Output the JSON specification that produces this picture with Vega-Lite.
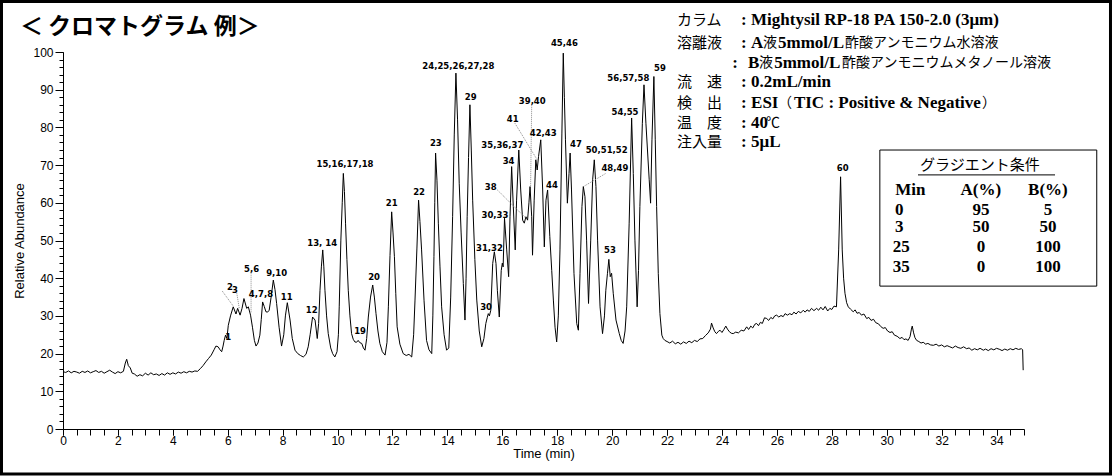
{
  "$schema": "https://vega.github.io/schema/vega-lite/v6.json",
  "autosize": {"type": "none"},
  "padding": {"left": 63, "top": 52, "right": 94, "bottom": 47},
  "width": 961,
  "height": 377,
  "background": "white",
  "config": {
    "view": {"stroke": null},
    "axis": {"labelFont": "Liberation Sans", "titleFont": "Liberation Sans", "labelColor": "#000", "titleColor": "#000", "domainColor": "#000", "tickColor": "#000", "grid": false, "titleFontWeight": "normal"}
  },
  "datasets": {
    "trace": [
      {"time":0,"abundance":15.2},{"time":0.1,"abundance":15.0},{"time":0.2,"abundance":15.4},{"time":0.3,"abundance":14.9},{"time":0.4,"abundance":15.3},{"time":0.5,"abundance":15.1},{"time":0.6,"abundance":14.8},{"time":0.7,"abundance":15.3},{"time":0.8,"abundance":15.0},{"time":0.9,"abundance":15.4},{"time":1.0,"abundance":14.9},{"time":1.1,"abundance":15.2},{"time":1.2,"abundance":15.5},{"time":1.3,"abundance":15.0},{"time":1.4,"abundance":15.3},{"time":1.5,"abundance":14.8},{"time":1.6,"abundance":15.2},{"time":1.7,"abundance":15.6},{"time":1.8,"abundance":15.1},{"time":1.9,"abundance":14.7},{"time":2.0,"abundance":15.2},{"time":2.1,"abundance":14.9},{"time":2.2,"abundance":15.3},{"time":2.27,"abundance":17.5},{"time":2.32,"abundance":18.5},{"time":2.38,"abundance":16.8},{"time":2.45,"abundance":16.2},{"time":2.52,"abundance":14.8},{"time":2.6,"abundance":14.6},{"time":2.7,"abundance":14.0},{"time":2.8,"abundance":14.4},{"time":2.9,"abundance":14.1},{"time":3.0,"abundance":14.8},{"time":3.1,"abundance":14.3},{"time":3.2,"abundance":14.9},{"time":3.3,"abundance":14.4},{"time":3.4,"abundance":14.6},{"time":3.5,"abundance":14.2},{"time":3.6,"abundance":14.7},{"time":3.7,"abundance":14.3},{"time":3.8,"abundance":14.9},{"time":3.9,"abundance":14.5},{"time":4.0,"abundance":14.9},{"time":4.1,"abundance":14.6},{"time":4.2,"abundance":15.1},{"time":4.3,"abundance":14.8},{"time":4.4,"abundance":15.2},{"time":4.5,"abundance":14.9},{"time":4.6,"abundance":15.3},{"time":4.7,"abundance":15.1},{"time":4.8,"abundance":15.4},{"time":4.9,"abundance":15.3},{"time":5.0,"abundance":16.0},{"time":5.1,"abundance":16.8},{"time":5.2,"abundance":17.8},{"time":5.3,"abundance":18.7},{"time":5.4,"abundance":19.6},{"time":5.5,"abundance":21.0},{"time":5.57,"abundance":22.0},{"time":5.65,"abundance":21.8},{"time":5.72,"abundance":21.0},{"time":5.78,"abundance":20.5},{"time":5.83,"abundance":22.0},{"time":5.87,"abundance":23.5},{"time":5.92,"abundance":24.9},{"time":5.97,"abundance":24.0},{"time":6.02,"abundance":27.5},{"time":6.1,"abundance":30.0},{"time":6.2,"abundance":32.4},{"time":6.3,"abundance":30.5},{"time":6.36,"abundance":32.0},{"time":6.45,"abundance":30.2},{"time":6.52,"abundance":32.0},{"time":6.59,"abundance":34.6},{"time":6.69,"abundance":32.0},{"time":6.75,"abundance":32.4},{"time":6.83,"abundance":30.2},{"time":6.9,"abundance":27.0},{"time":6.97,"abundance":23.5},{"time":7.03,"abundance":22.0},{"time":7.1,"abundance":22.8},{"time":7.17,"abundance":24.9},{"time":7.22,"abundance":29.0},{"time":7.27,"abundance":33.7},{"time":7.33,"abundance":32.5},{"time":7.39,"abundance":31.1},{"time":7.45,"abundance":31.0},{"time":7.51,"abundance":31.5},{"time":7.58,"abundance":35.0},{"time":7.66,"abundance":39.5},{"time":7.72,"abundance":37.0},{"time":7.78,"abundance":33.3},{"time":7.87,"abundance":27.0},{"time":7.96,"abundance":22.0},{"time":8.04,"abundance":25.0},{"time":8.1,"abundance":30.0},{"time":8.17,"abundance":33.5},{"time":8.27,"abundance":28.9},{"time":8.35,"abundance":24.0},{"time":8.45,"abundance":20.9},{"time":8.55,"abundance":20.0},{"time":8.65,"abundance":19.5},{"time":8.75,"abundance":19.1},{"time":8.85,"abundance":19.8},{"time":8.93,"abundance":21.8},{"time":9.0,"abundance":25.0},{"time":9.09,"abundance":29.7},{"time":9.18,"abundance":28.9},{"time":9.26,"abundance":24.0},{"time":9.31,"abundance":28.0},{"time":9.36,"abundance":36.8},{"time":9.41,"abundance":43.0},{"time":9.46,"abundance":47.5},{"time":9.5,"abundance":43.0},{"time":9.54,"abundance":36.8},{"time":9.6,"abundance":30.0},{"time":9.66,"abundance":25.3},{"time":9.75,"abundance":21.5},{"time":9.82,"abundance":20.0},{"time":9.9,"abundance":19.1},{"time":9.98,"abundance":20.5},{"time":10.03,"abundance":25.0},{"time":10.06,"abundance":32.4},{"time":10.12,"abundance":50.1},{"time":10.17,"abundance":60.0},{"time":10.21,"abundance":67.8},{"time":10.25,"abundance":63.0},{"time":10.29,"abundance":54.6},{"time":10.34,"abundance":45.0},{"time":10.39,"abundance":36.8},{"time":10.45,"abundance":30.0},{"time":10.51,"abundance":25.3},{"time":10.57,"abundance":23.8},{"time":10.63,"abundance":23.1},{"time":10.69,"abundance":23.0},{"time":10.75,"abundance":23.5},{"time":10.81,"abundance":22.9},{"time":10.88,"abundance":22.7},{"time":10.94,"abundance":21.5},{"time":11.0,"abundance":20.9},{"time":11.06,"abundance":24.0},{"time":11.12,"abundance":29.7},{"time":11.2,"abundance":35.0},{"time":11.28,"abundance":38.2},{"time":11.34,"abundance":35.0},{"time":11.4,"abundance":30.6},{"time":11.47,"abundance":26.0},{"time":11.54,"abundance":22.7},{"time":11.63,"abundance":20.5},{"time":11.73,"abundance":19.6},{"time":11.8,"abundance":23.0},{"time":11.85,"abundance":32.4},{"time":11.91,"abundance":46.0},{"time":11.97,"abundance":57.6},{"time":12.02,"abundance":52.0},{"time":12.07,"abundance":45.7},{"time":12.12,"abundance":36.0},{"time":12.17,"abundance":27.1},{"time":12.27,"abundance":22.5},{"time":12.39,"abundance":20.0},{"time":12.5,"abundance":19.5},{"time":12.6,"abundance":19.8},{"time":12.7,"abundance":19.1},{"time":12.77,"abundance":25.0},{"time":12.82,"abundance":34.2},{"time":12.89,"abundance":48.0},{"time":12.95,"abundance":60.7},{"time":13.0,"abundance":55.0},{"time":13.06,"abundance":47.5},{"time":13.15,"abundance":34.0},{"time":13.24,"abundance":23.5},{"time":13.33,"abundance":21.0},{"time":13.43,"abundance":20.0},{"time":13.47,"abundance":30.0},{"time":13.51,"abundance":45.7},{"time":13.54,"abundance":60.0},{"time":13.57,"abundance":73.2},{"time":13.62,"abundance":66.0},{"time":13.67,"abundance":54.6},{"time":13.73,"abundance":43.0},{"time":13.79,"abundance":32.4},{"time":13.88,"abundance":25.0},{"time":13.97,"abundance":20.9},{"time":14.05,"abundance":21.5},{"time":14.12,"abundance":35.0},{"time":14.19,"abundance":56.3},{"time":14.25,"abundance":78.0},{"time":14.31,"abundance":94.4},{"time":14.37,"abundance":82.0},{"time":14.43,"abundance":65.2},{"time":14.5,"abundance":52.0},{"time":14.58,"abundance":38.6},{"time":14.64,"abundance":28.9},{"time":14.68,"abundance":40.0},{"time":14.72,"abundance":56.3},{"time":14.77,"abundance":72.0},{"time":14.82,"abundance":86.0},{"time":14.87,"abundance":74.0},{"time":14.92,"abundance":60.7},{"time":15.0,"abundance":45.0},{"time":15.07,"abundance":34.2},{"time":15.16,"abundance":26.0},{"time":15.25,"abundance":21.8},{"time":15.33,"abundance":24.0},{"time":15.4,"abundance":28.0},{"time":15.45,"abundance":29.5},{"time":15.49,"abundance":30.6},{"time":15.53,"abundance":30.0},{"time":15.58,"abundance":31.5},{"time":15.65,"abundance":43.9},{"time":15.71,"abundance":47.0},{"time":15.77,"abundance":43.9},{"time":15.82,"abundance":36.8},{"time":15.89,"abundance":29.7},{"time":15.96,"abundance":42.0},{"time":16.0,"abundance":44.0},{"time":16.03,"abundance":43.0},{"time":16.08,"abundance":55.9},{"time":16.16,"abundance":47.5},{"time":16.23,"abundance":40.4},{"time":16.28,"abundance":56.3},{"time":16.34,"abundance":69.6},{"time":16.4,"abundance":59.0},{"time":16.47,"abundance":47.5},{"time":16.52,"abundance":60.7},{"time":16.6,"abundance":74.0},{"time":16.67,"abundance":63.4},{"time":16.74,"abundance":55.4},{"time":16.8,"abundance":54.6},{"time":16.86,"abundance":56.3},{"time":16.92,"abundance":55.4},{"time":16.97,"abundance":60.0},{"time":17.01,"abundance":64.3},{"time":17.07,"abundance":56.3},{"time":17.1,"abundance":46.1},{"time":17.16,"abundance":60.7},{"time":17.22,"abundance":71.4},{"time":17.27,"abundance":68.7},{"time":17.32,"abundance":72.3},{"time":17.4,"abundance":76.7},{"time":17.47,"abundance":63.4},{"time":17.53,"abundance":48.3},{"time":17.59,"abundance":60.7},{"time":17.65,"abundance":63.4},{"time":17.73,"abundance":51.0},{"time":17.8,"abundance":42.0},{"time":17.86,"abundance":34.2},{"time":17.92,"abundance":27.0},{"time":17.98,"abundance":23.1},{"time":18.04,"abundance":30.0},{"time":18.1,"abundance":47.5},{"time":18.17,"abundance":78.5},{"time":18.22,"abundance":99.7},{"time":18.26,"abundance":88.0},{"time":18.3,"abundance":76.7},{"time":18.37,"abundance":59.9},{"time":18.43,"abundance":67.8},{"time":18.47,"abundance":73.2},{"time":18.52,"abundance":63.4},{"time":18.61,"abundance":41.3},{"time":18.71,"abundance":28.0},{"time":18.77,"abundance":26.2},{"time":18.83,"abundance":41.3},{"time":18.9,"abundance":59.0},{"time":18.95,"abundance":64.3},{"time":19.01,"abundance":61.6},{"time":19.07,"abundance":50.1},{"time":19.14,"abundance":33.3},{"time":19.22,"abundance":50.1},{"time":19.29,"abundance":66.1},{"time":19.35,"abundance":71.4},{"time":19.41,"abundance":64.3},{"time":19.47,"abundance":50.1},{"time":19.56,"abundance":32.4},{"time":19.65,"abundance":25.3},{"time":19.72,"abundance":30.0},{"time":19.77,"abundance":36.8},{"time":19.83,"abundance":41.3},{"time":19.88,"abundance":45.0},{"time":19.93,"abundance":40.4},{"time":19.98,"abundance":41.3},{"time":20.04,"abundance":36.0},{"time":20.14,"abundance":28.9},{"time":20.26,"abundance":25.3},{"time":20.33,"abundance":23.5},{"time":20.4,"abundance":22.7},{"time":20.47,"abundance":26.0},{"time":20.53,"abundance":32.4},{"time":20.62,"abundance":54.6},{"time":20.71,"abundance":82.5},{"time":20.77,"abundance":67.8},{"time":20.83,"abundance":50.1},{"time":20.91,"abundance":32.4},{"time":20.96,"abundance":42.0},{"time":21.01,"abundance":59.0},{"time":21.1,"abundance":81.1},{"time":21.16,"abundance":91.3},{"time":21.23,"abundance":81.1},{"time":21.35,"abundance":66.1},{"time":21.4,"abundance":59.9},{"time":21.45,"abundance":76.7},{"time":21.52,"abundance":93.5},{"time":21.57,"abundance":76.7},{"time":21.62,"abundance":59.0},{"time":21.68,"abundance":41.3},{"time":21.74,"abundance":30.6},{"time":21.81,"abundance":24.9},{"time":21.86,"abundance":24.0},{"time":21.92,"abundance":23.5},{"time":22.0,"abundance":23.2},{"time":22.1,"abundance":22.8},{"time":22.2,"abundance":23.3},{"time":22.3,"abundance":22.6},{"time":22.4,"abundance":23.0},{"time":22.5,"abundance":22.5},{"time":22.6,"abundance":23.1},{"time":22.7,"abundance":22.7},{"time":22.8,"abundance":23.3},{"time":22.9,"abundance":22.9},{"time":23.0,"abundance":23.5},{"time":23.1,"abundance":23.2},{"time":23.2,"abundance":23.9},{"time":23.3,"abundance":24.0},{"time":23.4,"abundance":24.8},{"time":23.5,"abundance":25.5},{"time":23.58,"abundance":26.5},{"time":23.62,"abundance":28.1},{"time":23.68,"abundance":26.8},{"time":23.74,"abundance":25.8},{"time":23.8,"abundance":25.3},{"time":23.87,"abundance":25.9},{"time":23.93,"abundance":26.2},{"time":24.0,"abundance":25.6},{"time":24.07,"abundance":26.4},{"time":24.14,"abundance":27.3},{"time":24.2,"abundance":26.5},{"time":24.27,"abundance":25.8},{"time":24.34,"abundance":25.4},{"time":24.41,"abundance":25.3},{"time":24.5,"abundance":25.7},{"time":24.6,"abundance":25.5},{"time":24.7,"abundance":26.2},{"time":24.8,"abundance":26.0},{"time":24.9,"abundance":27.1},{"time":24.97,"abundance":26.4},{"time":25.05,"abundance":27.3},{"time":25.12,"abundance":26.8},{"time":25.2,"abundance":27.8},{"time":25.26,"abundance":28.0},{"time":25.33,"abundance":27.4},{"time":25.4,"abundance":28.3},{"time":25.47,"abundance":28.0},{"time":25.55,"abundance":29.5},{"time":25.63,"abundance":29.3},{"time":25.7,"abundance":28.8},{"time":25.78,"abundance":29.6},{"time":25.85,"abundance":29.2},{"time":25.92,"abundance":30.0},{"time":25.99,"abundance":30.2},{"time":26.07,"abundance":29.7},{"time":26.15,"abundance":30.1},{"time":26.23,"abundance":29.8},{"time":26.3,"abundance":30.6},{"time":26.38,"abundance":30.2},{"time":26.47,"abundance":30.6},{"time":26.55,"abundance":30.3},{"time":26.62,"abundance":31.0},{"time":26.7,"abundance":30.5},{"time":26.78,"abundance":31.2},{"time":26.87,"abundance":30.8},{"time":26.96,"abundance":31.5},{"time":27.03,"abundance":31.0},{"time":27.1,"abundance":31.6},{"time":27.18,"abundance":31.2},{"time":27.26,"abundance":32.0},{"time":27.35,"abundance":31.4},{"time":27.45,"abundance":32.0},{"time":27.52,"abundance":31.5},{"time":27.6,"abundance":32.3},{"time":27.68,"abundance":31.6},{"time":27.76,"abundance":32.5},{"time":27.85,"abundance":31.3},{"time":27.93,"abundance":32.0},{"time":28.0,"abundance":31.7},{"time":28.08,"abundance":32.6},{"time":28.17,"abundance":32.4},{"time":28.25,"abundance":47.5},{"time":28.32,"abundance":66.9},{"time":28.38,"abundance":47.5},{"time":28.43,"abundance":40.0},{"time":28.48,"abundance":36.0},{"time":28.54,"abundance":33.5},{"time":28.6,"abundance":32.4},{"time":28.68,"abundance":31.8},{"time":28.78,"abundance":31.1},{"time":28.85,"abundance":31.6},{"time":28.92,"abundance":30.7},{"time":29.0,"abundance":30.9},{"time":29.08,"abundance":30.2},{"time":29.17,"abundance":30.5},{"time":29.27,"abundance":29.3},{"time":29.35,"abundance":29.6},{"time":29.43,"abundance":28.8},{"time":29.52,"abundance":29.1},{"time":29.6,"abundance":28.2},{"time":29.7,"abundance":27.9},{"time":29.78,"abundance":27.2},{"time":29.87,"abundance":26.7},{"time":29.95,"abundance":26.9},{"time":30.03,"abundance":26.0},{"time":30.12,"abundance":25.6},{"time":30.2,"abundance":25.8},{"time":30.28,"abundance":24.9},{"time":30.38,"abundance":24.6},{"time":30.48,"abundance":24.0},{"time":30.56,"abundance":24.3},{"time":30.63,"abundance":23.7},{"time":30.7,"abundance":23.9},{"time":30.78,"abundance":23.5},{"time":30.85,"abundance":24.5},{"time":30.9,"abundance":26.5},{"time":30.93,"abundance":27.3},{"time":30.98,"abundance":25.5},{"time":31.03,"abundance":24.2},{"time":31.09,"abundance":23.5},{"time":31.17,"abundance":23.2},{"time":31.25,"abundance":22.8},{"time":31.33,"abundance":23.0},{"time":31.42,"abundance":22.5},{"time":31.5,"abundance":22.7},{"time":31.6,"abundance":22.3},{"time":31.7,"abundance":22.2},{"time":31.8,"abundance":22.5},{"time":31.9,"abundance":22.0},{"time":32.0,"abundance":22.3},{"time":32.1,"abundance":21.8},{"time":32.2,"abundance":22.1},{"time":32.3,"abundance":21.8},{"time":32.4,"abundance":21.5},{"time":32.5,"abundance":22.0},{"time":32.6,"abundance":21.6},{"time":32.7,"abundance":21.4},{"time":32.8,"abundance":21.8},{"time":32.91,"abundance":21.3},{"time":33.0,"abundance":21.5},{"time":33.1,"abundance":20.9},{"time":33.2,"abundance":21.3},{"time":33.3,"abundance":21.0},{"time":33.4,"abundance":21.4},{"time":33.52,"abundance":20.9},{"time":33.6,"abundance":21.2},{"time":33.7,"abundance":20.8},{"time":33.8,"abundance":21.3},{"time":33.9,"abundance":21.0},{"time":34.0,"abundance":21.4},{"time":34.12,"abundance":21.1},{"time":34.2,"abundance":20.8},{"time":34.3,"abundance":21.2},{"time":34.4,"abundance":20.9},{"time":34.5,"abundance":21.3},{"time":34.6,"abundance":21.0},{"time":34.7,"abundance":21.4},{"time":34.8,"abundance":21.1},{"time":34.91,"abundance":21.3},{"time":34.95,"abundance":21.0},{"time":34.97,"abundance":15.6}
    ],
    "peaks": [
      {"text":"1","time":6.02,"abundance":24.3},{"text":"2","time":6.08,"abundance":37.7},{"text":"3","time":6.26,"abundance":36.9},{"text":"5,6","time":6.87,"abundance":42.4},{"text":"4,7,8","time":7.21,"abundance":35.7},{"text":"9,10","time":7.78,"abundance":41.3},{"text":"11","time":8.15,"abundance":34.9},{"text":"12","time":9.06,"abundance":31.6},{"text":"13, 14","time":9.44,"abundance":49.4},{"text":"15,16,17,18","time":10.27,"abundance":70.2},{"text":"19","time":10.82,"abundance":26.1},{"text":"20","time":11.33,"abundance":40.4},{"text":"21","time":11.97,"abundance":59.9},{"text":"22","time":12.97,"abundance":62.9},{"text":"23","time":13.58,"abundance":75.8},{"text":"24,25,26,27,28","time":14.4,"abundance":96.4},{"text":"29","time":14.85,"abundance":88.1},{"text":"30","time":15.41,"abundance":32.4},{"text":"31,32","time":15.53,"abundance":48.1},{"text":"30,33","time":15.73,"abundance":56.8},{"text":"34","time":16.23,"abundance":71.2},{"text":"35,36,37","time":16.0,"abundance":75.3},{"text":"38","time":15.58,"abundance":64.3},{"text":"39,40","time":17.09,"abundance":87.1},{"text":"41","time":16.38,"abundance":82.1},{"text":"42,43","time":17.49,"abundance":78.6},{"text":"44","time":17.81,"abundance":64.7},{"text":"45,46","time":18.26,"abundance":102.5},{"text":"47","time":18.68,"abundance":75.5},{"text":"48,49","time":20.1,"abundance":69.2},{"text":"50,51,52","time":19.8,"abundance":73.9},{"text":"53","time":19.92,"abundance":47.5},{"text":"54,55","time":20.47,"abundance":84.2},{"text":"56,57,58","time":20.59,"abundance":93.2},{"text":"59","time":21.74,"abundance":95.7},{"text":"60","time":28.4,"abundance":69.2}
    ],
    "leaders": [
      {"time":5.8,"abundance":36.6,"time2":6.2,"abundance2":32.6},{"time":6.33,"abundance":36.0,"time2":6.42,"abundance2":32.0},{"time":6.85,"abundance":41.3,"time2":6.85,"abundance2":30.7},{"time":15.82,"abundance":63.4,"time2":16.86,"abundance2":55.9},{"time":17.07,"abundance":86.0,"time2":17.03,"abundance2":64.3},{"time":16.46,"abundance":81.1,"time2":17.27,"abundance2":71.4},{"time":19.0,"abundance":64.5,"time2":19.77,"abundance2":67.8}
    ],
    "frame": [{"time":-2.24,"time2":38.15,"abundance":113.4,"abundance2":-11.94}],
    "box": [{"time":29.75,"time2":37.65,"abundance":74.0,"abundance2":37.9}],
    "underline": [{"time":31.14,"time2":36.13,"abundance":67.4,"abundance2":67.4}],
    "heading": [{"text":"＜ クロマトグラム 例＞","time":-1.57,"abundance":106.5}],
    "labelsJa": [
      {"text":"カラム","time":22.36,"abundance":108.5},{"text":"溶離液","time":22.36,"abundance":102.3},{"text":"流　速","time":22.36,"abundance":92.0},{"text":"検　出","time":22.36,"abundance":86.5},{"text":"温　度","time":22.36,"abundance":81.2},{"text":"注入量","time":22.36,"abundance":76.1},{"text":"グラジエント条件","time":31.21,"abundance":70.1}
    ],
    "valuesJa": [
      {"text":"液","time":25.49,"abundance":102.3},{"text":"酢酸アンモニウム水溶液","time":28.48,"abundance":102.3},{"text":"液","time":25.35,"abundance":97.0},{"text":"酢酸アンモニウムメタノール溶液","time":28.37,"abundance":97.0},{"text":"（","time":26.04,"abundance":86.5},{"text":"）","time":33.47,"abundance":86.5},{"text":"℃","time":25.6,"abundance":81.2}
    ],
    "valuesBold": [
      {"text":":","time":24.69,"abundance":108.5},{"text":":","time":24.69,"abundance":102.3},{"text":":","time":24.37,"abundance":97.0},{"text":":","time":24.69,"abundance":92.0},{"text":":","time":24.69,"abundance":86.5},{"text":":","time":24.69,"abundance":81.2},{"text":":","time":24.69,"abundance":76.1},
      {"text":"Mightysil RP-18 PA 150-2.0 (3μm)","time":25.06,"abundance":108.5},{"text":"A","time":25.06,"abundance":102.3},{"text":"5mmol/L","time":26.04,"abundance":102.3},{"text":"B","time":24.95,"abundance":97.0},{"text":"5mmol/L","time":25.9,"abundance":97.0},{"text":"0.2mL/min","time":25.06,"abundance":92.0},{"text":"ESI","time":25.06,"abundance":86.5},{"text":"TIC : Positive & Negative","time":26.62,"abundance":86.5},{"text":"40","time":25.06,"abundance":81.2},{"text":"5μL","time":25.06,"abundance":76.1}
    ],
    "table": [
      {"text":"Min","time":30.86,"abundance":63.4},{"text":"A(%)","time":33.43,"abundance":63.4},{"text":"B(%)","time":35.87,"abundance":63.4},
      {"text":"0","time":30.46,"abundance":58.1},{"text":"95","time":33.43,"abundance":58.1},{"text":"5","time":35.87,"abundance":58.1},
      {"text":"3","time":30.46,"abundance":53.5},{"text":"50","time":33.43,"abundance":53.5},{"text":"50","time":35.87,"abundance":53.5},
      {"text":"25","time":30.53,"abundance":48.2},{"text":"0","time":33.43,"abundance":48.2},{"text":"100","time":35.87,"abundance":48.2},
      {"text":"35","time":30.53,"abundance":42.9},{"text":"0","time":33.43,"abundance":42.9},{"text":"100","time":35.87,"abundance":42.9}
    ]
  },
  "resolve": {"axis": {"x": "independent", "y": "independent"}},
  "layer": [
    {
      "data": {"name": "trace"},
      "mark": {"type": "line", "color": "#000", "strokeWidth": 1, "interpolate": "linear"},
      "encoding": {
        "x": {"field": "time", "type": "quantitative", "scale": {"domain": [0, 35], "nice": false, "zero": false},
              "axis": {"orient": "bottom", "title": "Time (min)", "values": [0,2,4,6,8,10,12,14,16,18,20,22,24,26,28,30,32,34], "tickSize": 6, "labelPadding": 0, "labelFontSize": 12, "titleFontSize": 13, "titlePadding": 1, "labelFlush": false}},
        "y": {"field": "abundance", "type": "quantitative", "scale": {"domain": [0, 100], "nice": false, "zero": false},
              "axis": {"orient": "left", "title": "Relative Abundance", "values": [0,10,20,30,40,50,60,70,80,90,100], "tickSize": 8, "labelPadding": 2, "labelFontSize": 12, "titleFontSize": 13, "titlePadding": 6}}
      }
    },
    {
      "data": {"name": "frame"},
      "mark": {"type": "rect", "fill": null, "stroke": "#000", "strokeWidth": 3},
      "encoding": {
        "x": {"field": "time", "type": "quantitative", "axis": {"orient": "bottom", "values": [0,0.5,1,1.5,2,2.5,3,3.5,4,4.5,5,5.5,6,6.5,7,7.5,8,8.5,9,9.5,10,10.5,11,11.5,12,12.5,13,13.5,14,14.5,15,15.5,16,16.5,17,17.5,18,18.5,19,19.5,20,20.5,21,21.5,22,22.5,23,23.5,24,24.5,25,25.5,26,26.5,27,27.5,28,28.5,29,29.5,30,30.5,31,31.5,32,32.5,33,33.5,34,34.5,35], "labels": false, "domain": false, "title": null, "tickSize": 6}},
        "x2": {"field": "time2"},
        "y": {"field": "abundance", "type": "quantitative", "axis": {"orient": "left", "values": [0,2,4,6,8,10,12,14,16,18,20,22,24,26,28,30,32,34,36,38,40,42,44,46,48,50,52,54,56,58,60,62,64,66,68,70,72,74,76,78,80,82,84,86,88,90,92,94,96,98,100], "labels": false, "domain": false, "title": null, "tickSize": 4}},
        "y2": {"field": "abundance2"}
      }
    },
    {
      "data": {"name": "box"},
      "mark": {"type": "rect", "fill": null, "stroke": "#000", "strokeWidth": 1},
      "encoding": {
        "x": {"field": "time", "type": "quantitative", "axis": null},
        "x2": {"field": "time2"},
        "y": {"field": "abundance", "type": "quantitative", "axis": null},
        "y2": {"field": "abundance2"}
      }
    },
    {
      "data": {"name": "underline"},
      "mark": {"type": "rule", "color": "#000", "strokeWidth": 1},
      "encoding": {
        "x": {"field": "time", "type": "quantitative", "axis": null},
        "x2": {"field": "time2"},
        "y": {"field": "abundance", "type": "quantitative", "axis": null}
      }
    },
    {
      "data": {"name": "leaders"},
      "mark": {"type": "rule", "color": "#8c8c8c", "strokeWidth": 1, "strokeDash": [1, 1]},
      "encoding": {
        "x": {"field": "time", "type": "quantitative", "axis": null},
        "x2": {"field": "time2"},
        "y": {"field": "abundance", "type": "quantitative", "axis": null},
        "y2": {"field": "abundance2"}
      }
    },
    {
      "data": {"name": "peaks"},
      "mark": {"type": "text", "font": "DejaVu Sans", "fontWeight": "bold", "fontSize": 8.5, "color": "#000", "align": "center", "baseline": "middle"},
      "encoding": {
        "x": {"field": "time", "type": "quantitative", "axis": null},
        "y": {"field": "abundance", "type": "quantitative", "axis": null},
        "text": {"field": "text"}
      }
    },
    {
      "data": {"name": "heading"},
      "mark": {"type": "text", "font": "Noto Sans CJK JP", "fontWeight": "bold", "fontSize": 23, "color": "#000", "align": "left", "baseline": "middle"},
      "encoding": {
        "x": {"field": "time", "type": "quantitative", "axis": null},
        "y": {"field": "abundance", "type": "quantitative", "axis": null},
        "text": {"field": "text"}
      }
    },
    {
      "data": {"name": "labelsJa"},
      "mark": {"type": "text", "font": "Noto Sans CJK JP", "fontWeight": "normal", "fontSize": 15, "color": "#000", "align": "left", "baseline": "middle"},
      "encoding": {
        "x": {"field": "time", "type": "quantitative", "axis": null},
        "y": {"field": "abundance", "type": "quantitative", "axis": null},
        "text": {"field": "text"}
      }
    },
    {
      "data": {"name": "valuesJa"},
      "mark": {"type": "text", "font": "Noto Sans CJK JP", "fontWeight": "normal", "fontSize": 14, "color": "#000", "align": "left", "baseline": "middle"},
      "encoding": {
        "x": {"field": "time", "type": "quantitative", "axis": null},
        "y": {"field": "abundance", "type": "quantitative", "axis": null},
        "text": {"field": "text"}
      }
    },
    {
      "data": {"name": "valuesBold"},
      "mark": {"type": "text", "font": "Liberation Serif", "fontWeight": "bold", "fontSize": 17, "color": "#000", "align": "left", "baseline": "middle"},
      "encoding": {
        "x": {"field": "time", "type": "quantitative", "axis": null},
        "y": {"field": "abundance", "type": "quantitative", "axis": null},
        "text": {"field": "text"}
      }
    },
    {
      "data": {"name": "table"},
      "mark": {"type": "text", "font": "Liberation Serif", "fontWeight": "bold", "fontSize": 17, "color": "#000", "align": "center", "baseline": "middle"},
      "encoding": {
        "x": {"field": "time", "type": "quantitative", "axis": null},
        "y": {"field": "abundance", "type": "quantitative", "axis": null},
        "text": {"field": "text"}
      }
    }
  ]
}
